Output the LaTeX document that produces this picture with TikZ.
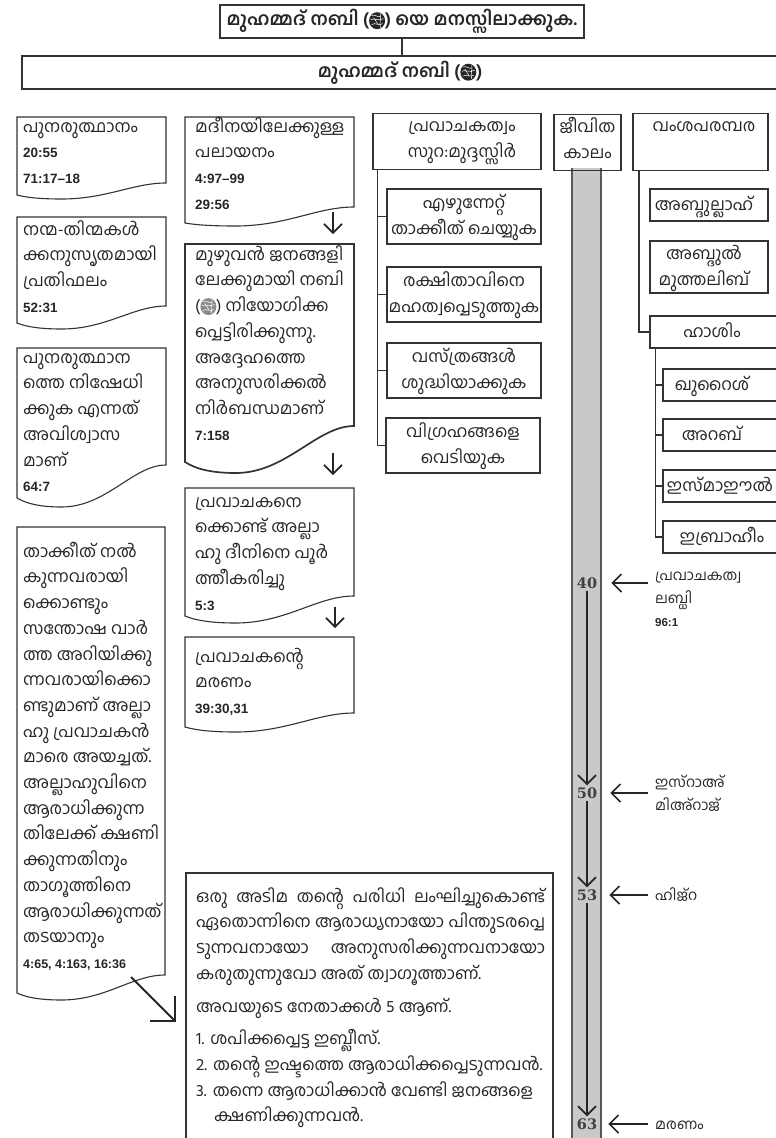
\documentclass[tikz,border=0pt]{standalone}
\usepackage{fontspec}
\setmainfont[Script=Malayalam]{Hind Kochi}
\newfontfamily\zahlfont{Liberation Sans}
\newfontfamily\serffont{DejaVu Serif}
\usetikzlibrary{arrows.meta}
\newcommand{\zahl}[1]{{\zahlfont\bfseries\fontsize{13.5}{25.7}\selectfont #1}}
\newcommand{\jline}[1]{\makebox[349pt][s]{#1}}
\newcommand{\zeile}{\vrule height 18pt depth 7.7pt width 0pt\relax}
\newcommand{\unten}{\vrule depth 12.7pt width 0pt\relax}
% Segenszeichen als kleine Form
\newcommand{\sawa}[1][black!85]{\tikz[baseline=-5pt,x=1pt,y=1pt]{\fill[#1] (8.5,0) ellipse (8pt and 8.5pt);
	\draw[white,line width=.5pt] (3,5) .. controls (6,7) and (9,3) .. (12,4) (2,1) .. controls (6,3) and (9,-1) .. (15,2)
		(3,-4) .. controls (7,-1) and (10,-6) .. (14,-3) (5,3) -- (9,-3) (12,7) .. controls (13,2) and (10,-2) .. (12,-7);}}
\definecolor{balken}{HTML}{C8C9CB}
\definecolor{strich}{HTML}{333333}
\tikzset{
	linie/.style={draw=strich,line width=1.1pt},
	tx/.style={inner sep=0pt,text=black!85,font=\fontsize{16.8}{25.7}\selectfont},
	links/.style={tx,align=left,anchor=north west},
	kasten/.style={tx,linie,align=center},
	kopf/.style={kasten,minimum height=33,font=\bfseries\fontsize{18}{25.7}\selectfont},
	pfeil/.style={draw=black!85,line width=1.7pt,-{Straight Barb[length=9pt,width=18pt,line width=1.7pt]}},
	jahr/.style={inner sep=2pt,text=black!75,font=\serffont\bfseries\fontsize{14.5}{16}\selectfont},
	marke/.style={links,font=\fontsize{14.5}{23}\selectfont}
}
\begin{document}
\begin{tikzpicture}[x=1pt,y=-1pt]
	\useasboundingbox (0,0) rectangle (776,1138);
	\clip (0,0) rectangle (776,1138);
	%Kopf
	\node[kopf,minimum width=364] (top) at (402,21.5) {മുഹമ്മദ് നബി (\sawa) യെ മനസ്സിലാക്കുക.};
	\node[kopf,minimum width=770] (nabi) at (407,72.5) {\hspace*{-14pt}മുഹമ്മദ് നബി (\sawa)};
	\draw[linie] (top) -- (top |- nabi.north);
	%Balken
	\fill[balken] (572,168) rectangle (601,1150);
	\draw[linie,draw=black!65] (572,168) -- (572,1150) (601,168) -- (601,1150);
	%Wellenkaesten
	\foreach \nm/\xa/\ya/\xb/\yl/\yr/\yt/\lw in {
		d1/17/117/166/195/183/199/1.1,
		d2/17/217/166/323/306/329/1.1,
		d3/17/348/166/498/465/507/1.1,
		d4/17/527/165/993/975/1000/1.1,
		m1/185/117/354/223/207/226/1.1,
		m2/185/244/354/462/426/473/1.7,
		m3/185/488/354/616/596/623/1.1,
		m4/185/637/354/727/713/732/1.1}{
		\pgfmathsetmacro{\w}{\xb-\xa}
		\draw[linie,line width=\lw pt] (\xa,\ya) -- (\xb,\ya) -- (\xb,\yr)
			.. controls (\xb-0.22*\w,\yr) and (\xa+0.6*\w,\yt) .. (\xa+0.3*\w,\yt)
			.. controls (\xa+0.17*\w,\yt) and (\xa+0.07*\w,\yl+0.7*\yt-0.7*\yl) .. (\xa,\yl) -- cycle;
	}
	%Texte links
	\node[links] (td1) at (23,114) {\zeile പുനരുത്ഥാനം\\\zahl{20:55}\\\zahl{71:17–18}};
	\node[links] (td2) at (23,217) {\zeile നന്മ-തിന്മകൾ\\ക്കനുസൃതമായി\\പ്രതിഫലം\\\zahl{52:31}};
	\node[links] (td3) at (23,345) {\zeile പുനരുത്ഥാന\\ത്തെ നിഷേധി\\ക്കുക എന്നത്\\അവിശ്വാസ\\മാണ്\\\zahl{64:7}};
	\node[links] (td4) at (23,539) {\zeile താക്കീത് നൽ\\കുന്നവരായി\\ക്കൊണ്ടും\\സന്തോഷ വാർ\\ത്ത അറിയിക്കു\\ന്നവരായിക്കൊ\\ണ്ടുമാണ് അല്ലാ\\ഹു പ്രവാചകൻ\\മാരെ അയച്ചത്.\\അല്ലാഹുവിനെ\\ആരാധിക്കുന്ന\\തിലേക്ക് ക്ഷണി\\ക്കുന്നതിനും\\താഗൂത്തിനെ\\ആരാധിക്കുന്നത്\\തടയാനും\\{\zahlfont\bfseries\fontsize{12.5}{25.7}\selectfont 4:65, 4:163, 16:36}};
	%Texte Mitte
	\node[links] (tm1) at (195,114) {\zeile മദീനയിലേക്കുള്ള\\പലായനം\\\zahl{4:97–99}\\\zahl{29:56}};
	\node[links] (tm2) at (195,242) {\zeile മുഴുവൻ ജനങ്ങളി\\ലേക്കുമായി നബി\\(\sawa[black!45]) നിയോഗിക്ക\\പ്പെട്ടിരിക്കുന്നു.\\അദ്ദേഹത്തെ\\അനുസരിക്കൽ\\നിർബന്ധമാണ്\\\zahl{7:158}};
	\node[links] (tm3) at (195,489) {\zeile പ്രവാചകനെ\\ക്കൊണ്ട് അല്ലാ\\ഹു ദീനിനെ പൂർ\\ത്തീകരിച്ചു\\\zahl{5:3}};
	\node[links] (tm4) at (195,644) {\zeile പ്രവാചകന്റെ\\മരണം\\\zahl{39:30,31}};
	%Pfeile zwischen den Kaesten
	\foreach \k/\xp/\ya/\yb in {1/333/212/234,2/333/453/475,3/335/607/628}{
		\coordinate (a\k) at (\xp,\ya);
		\coordinate (b\k) at (\xp,\yb);
		\draw[pfeil] (a\k) -- (b\k);
	}
	%Prophetentum
	\node[kasten,minimum width=168,minimum height=51] (pro) at (457,141.5) {\zeile\hspace*{10pt}പ്രവാചകത്വം\\\zeile\hspace*{10pt}സുറ:മുദ്ദസ്സിർ\unten};
	\node[kasten,minimum width=154,minimum height=55] (pro1) at (464,216.5) {\zeile എഴുന്നേറ്റ്\\\zeile താക്കീത് ചെയ്യുക};
	\node[kasten,minimum width=154,minimum height=55] (pro2) at (464,294.5) {\zeile രക്ഷിതാവിനെ\\\zeile മഹത്വപ്പെടുത്തുക};
	\node[kasten,minimum width=154,minimum height=55] (pro3) at (464,370.5) {\zeile വസ്‌ത്രങ്ങൾ\\\zeile ശുദ്ധിയാക്കുക};
	\node[kasten,minimum width=154,minimum height=55] (pro4) at (463,445.5) {\zeile വിഗ്രഹങ്ങളെ\\\zeile വെടിയുക};
	\foreach \k in {1,2,3,4}
		\draw[linie] ([xshift=5pt]pro.south west) |- (pro\k.west);
	%Lebenszeit
	\node[kasten,minimum width=67,minimum height=51] (zeit) at (587.5,142.5) {\zeile ജീവിത\\\zeile കാലം\unten};
	%Abstammung
	\node[kasten,minimum width=135,minimum height=52] (ahnen) at (700.5,142) {\zeile\hspace*{7pt}വംശപരമ്പര\\\zeile ~\unten};
	\node[kasten,minimum width=118,minimum height=32] (ah1) at (709,205) {\zeile\hspace*{-10pt}അബ്ദുല്ലാഹ്};
	\node[kasten,minimum width=118,minimum height=52] (ah2) at (709,267) {\zeile\hspace*{-10pt}അബ്ദുൽ\\\zeile\hspace*{-10pt}മുത്തലിബ്};
	\node[kasten,minimum width=140,minimum height=32] (has) at (720,332) {\zeile\hspace*{-16pt}ഹാശിം};
	\draw[linie] ([xshift=6.5pt]ahnen.south west) |- (has.west);
	\node[kasten,minimum width=125,minimum height=32] (ha1) at (725.5,385) {\zeile\hspace*{-27pt}ഖുറൈശ്};
	\node[kasten,minimum width=125,minimum height=32] (ha2) at (725.5,435) {\zeile\hspace*{-27pt}അറബ്};
	\node[kasten,minimum width=125,minimum height=32] (ha3) at (725.5,486) {\zeile\hspace*{-11pt}ഇസ്‌മാഈൽ};
	\node[kasten,minimum width=125,minimum height=32] (ha4) at (725.5,537) {\zeile\hspace*{-7pt}ഇബ്രാഹീം};
	\foreach \k in {1,2,3,4}
		\draw[linie] ([xshift=6pt]has.south west) |- (ha\k.west);
	%Zeitleiste
	\node[jahr] (j40) at (587,583) {40};
	\node[jahr] (j50) at (587,793) {50};
	\node[jahr] (j53) at (587,895) {53};
	\node[jahr] (j63) at (587,1124) {63};
	\draw[pfeil] (j40) -- (j50);
	\draw[pfeil] (j50) -- (j53);
	\draw[pfeil] (j53) -- (j63);
	\node[marke] (l40) at (655,562) {\zeile പ്രവാചകത്വ\\ലബ്ധി\\{\zahlfont\bfseries\fontsize{11.5}{23}\selectfont 96:1}};
	\node[marke] (l50) at (655,769) {\zeile ഇസ്‌റാഅ്\\മിഅ്‌റാജ്};
	\node[marke] (l53) at (655,882) {\zeile ഹിജ്‌റ};
	\node[marke] (l63) at (655,1111) {\zeile മരണം};
	\foreach \k/\s in {40/12,50/11,53/10,63/9}
		\draw[pfeil,shorten <=7pt,shorten >=\s pt] (j\k -| l\k.west) -- (j\k.east);
	%Unterer Kasten
	\draw[linie] (186,1150) |- (553,873) -- (553,1150);
	\node[links,font=\fontsize{16.7}{25.7}\selectfont] (tag) at (196,884) {\zeile\jline{ഒരു അടിമ തന്റെ പരിധി ലംഘിച്ചുകൊണ്ട്}\\\jline{ഏതൊന്നിനെ ആരാധ്യനായോ പിന്തുടരപ്പെ}\\\jline{ടുന്നവനായോ അനുസരിക്കുന്നവനായോ}\\കരുതുന്നുവോ അത് ത്വാഗൂത്താണ്.\\[7pt]അവയുടെ നേതാക്കൾ 5 ആണ്.\\[7pt]1.\hspace{6pt}ശപിക്കപ്പെട്ട ഇബ്ലീസ്.\\2.\hspace{6pt}തന്റെ ഇഷ്ടത്തെ ആരാധിക്കപ്പെടുന്നവൻ.\\3.\hspace{6pt}തന്നെ ആരാധിക്കാൻ വേണ്ടി ജനങ്ങളെ\\\hspace*{18pt}ക്ഷണിക്കുന്നവൻ.};
	%Schraeger Pfeil
	\coordinate (s1) at (131,977);
	\coordinate (s2) at (176,1022);
	\draw[draw=black!85,line width=1.8pt,-{Straight Barb[length=18pt,width=36pt,line width=1.8pt]}] (s1) -- (s2);
\end{tikzpicture}
\end{document}
